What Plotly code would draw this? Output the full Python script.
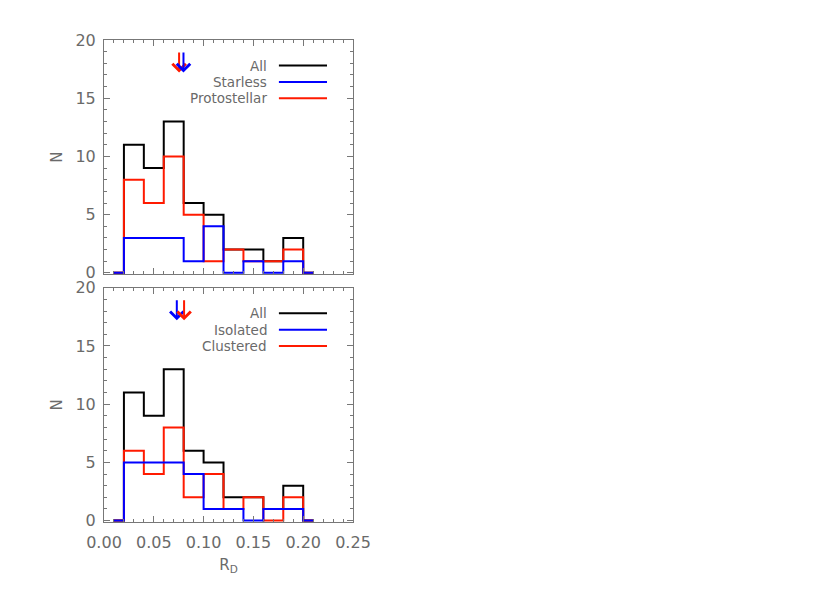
import plotly.graph_objects as go

# ---- data ----
bin_lo = [0.02, 0.04, 0.06, 0.08, 0.10, 0.12, 0.14, 0.16, 0.18]
bin_width = 0.02

all_counts = [11, 9, 13, 6, 5, 2, 2, 1, 3]
starless = [3, 3, 3, 1, 4, 0, 1, 0, 1]
protostellar = [8, 6, 10, 5, 1, 2, 1, 1, 2]
isolated = [5, 5, 5, 4, 1, 1, 0, 1, 1]
clustered = [6, 4, 8, 2, 4, 1, 2, 0, 2]

# median markers (arrows)
top_medians = {"Protostellar": 0.0754, "Starless": 0.0798}
bot_medians = {"Isolated": 0.0731, "Clustered": 0.0804}

x_ticks = [0.00, 0.05, 0.10, 0.15, 0.20, 0.25]
y_ticks = [0, 5, 10, 15, 20]

BLACK = "#000000"
BLUE = "#0000ff"
RED = "#ff1a00"
FONT = "DejaVu Sans"
TXT = "#6a6a6a"
FRAME = "#777777"


def step_xy(counts):
    xs = [bin_lo[0] - bin_width / 2] + bin_lo + [bin_lo[-1] + bin_width, bin_lo[-1] + bin_width * 1.5]
    ys = [0] + list(counts) + [0, 0]
    return xs, ys


fig = go.Figure()

panels = [
    ("x2", "y2", [("All", all_counts, BLACK), ("Protostellar", protostellar, RED), ("Starless", starless, BLUE)]),
    ("x", "y", [("All", all_counts, BLACK), ("Clustered", clustered, RED), ("Isolated", isolated, BLUE)]),
]
for xa, ya, series in panels:
    for name, counts, col in series:
        xs, ys = step_xy(counts)
        fig.add_trace(go.Scatter(x=xs, y=ys, mode="lines", line=dict(color=col, width=2, shape="hv"),
                                 xaxis=xa, yaxis=ya, showlegend=False, name=name))

# arrows
arrow_specs = [
    ("x2", "y2", top_medians["Protostellar"], RED),
    ("x2", "y2", top_medians["Starless"], BLUE),
    ("x", "y", bot_medians["Isolated"], BLUE),
    ("x", "y", bot_medians["Clustered"], RED),
]
for xa, ya, xv, col in arrow_specs:
    fig.add_annotation(x=xv, y=17.2, ax=xv, ay=19.05, xref=xa, yref=ya, axref=xa, ayref=ya,
                       showarrow=True, arrowhead=4, arrowsize=1.3, arrowwidth=2, arrowcolor=col, text="")

# custom legends (text left of line)
legend_rows = [17.8, 16.4, 15.0]
legends = [
    ("x2", "y2", [("All", BLACK), ("Starless", BLUE), ("Protostellar", RED)]),
    ("x", "y", [("All", BLACK), ("Isolated", BLUE), ("Clustered", RED)]),
]
for xa, ya, items in legends:
    for (label, col), yv in zip(items, legend_rows):
        fig.add_annotation(x=0.1655, y=yv, xref=xa, yref=ya, text=label, showarrow=False,
                           xanchor="right", yanchor="middle", font=dict(family=FONT, size=13.5, color=TXT))
        fig.add_shape(type="line", x0=0.1756, x1=0.2239, y0=yv, y1=yv, xref=xa, yref=ya,
                      line=dict(color=col, width=2))

axis_common = dict(showgrid=False, zeroline=False, showline=True, linecolor=FRAME, linewidth=1,
                   mirror="allticks", ticks="inside", tickcolor=FRAME, tickwidth=1, ticklen=6,
                   automargin=False)
xcommon = dict(axis_common, range=[0, 0.25], tickvals=x_ticks, tickformat=".2f",
               minor=dict(dtick=0.01, ticks="inside", ticklen=3, tickcolor=FRAME, tickwidth=1))
ycommon = dict(axis_common, range=[-0.12, 20], tickvals=y_ticks,
               minor=dict(dtick=1, ticks="inside", ticklen=3, tickcolor=FRAME, tickwidth=1))

fig.update_layout(
    width=830, height=593,
    margin=dict(l=96, r=485, t=32, b=79),
    paper_bgcolor="white", plot_bgcolor="white",
    font=dict(family=FONT, size=16, color=TXT),
    showlegend=False,
    xaxis=dict(xcommon, anchor="y", domain=[0, 1], ticklabelstandoff=6,
               title=dict(text="R<sub>D</sub>", font=dict(size=15), standoff=8)),
    yaxis=dict(ycommon, anchor="x", domain=[0, 0.486], ticklabelstandoff=4,
               title=dict(text="N", font=dict(size=15), standoff=9)),
    xaxis2=dict(xcommon, anchor="y2", domain=[0, 1], showticklabels=False),
    yaxis2=dict(ycommon, anchor="x2", domain=[0.514, 1], ticklabelstandoff=4,
                title=dict(text="N", font=dict(size=15), standoff=9)),
)

fig.write_html("out.html")
